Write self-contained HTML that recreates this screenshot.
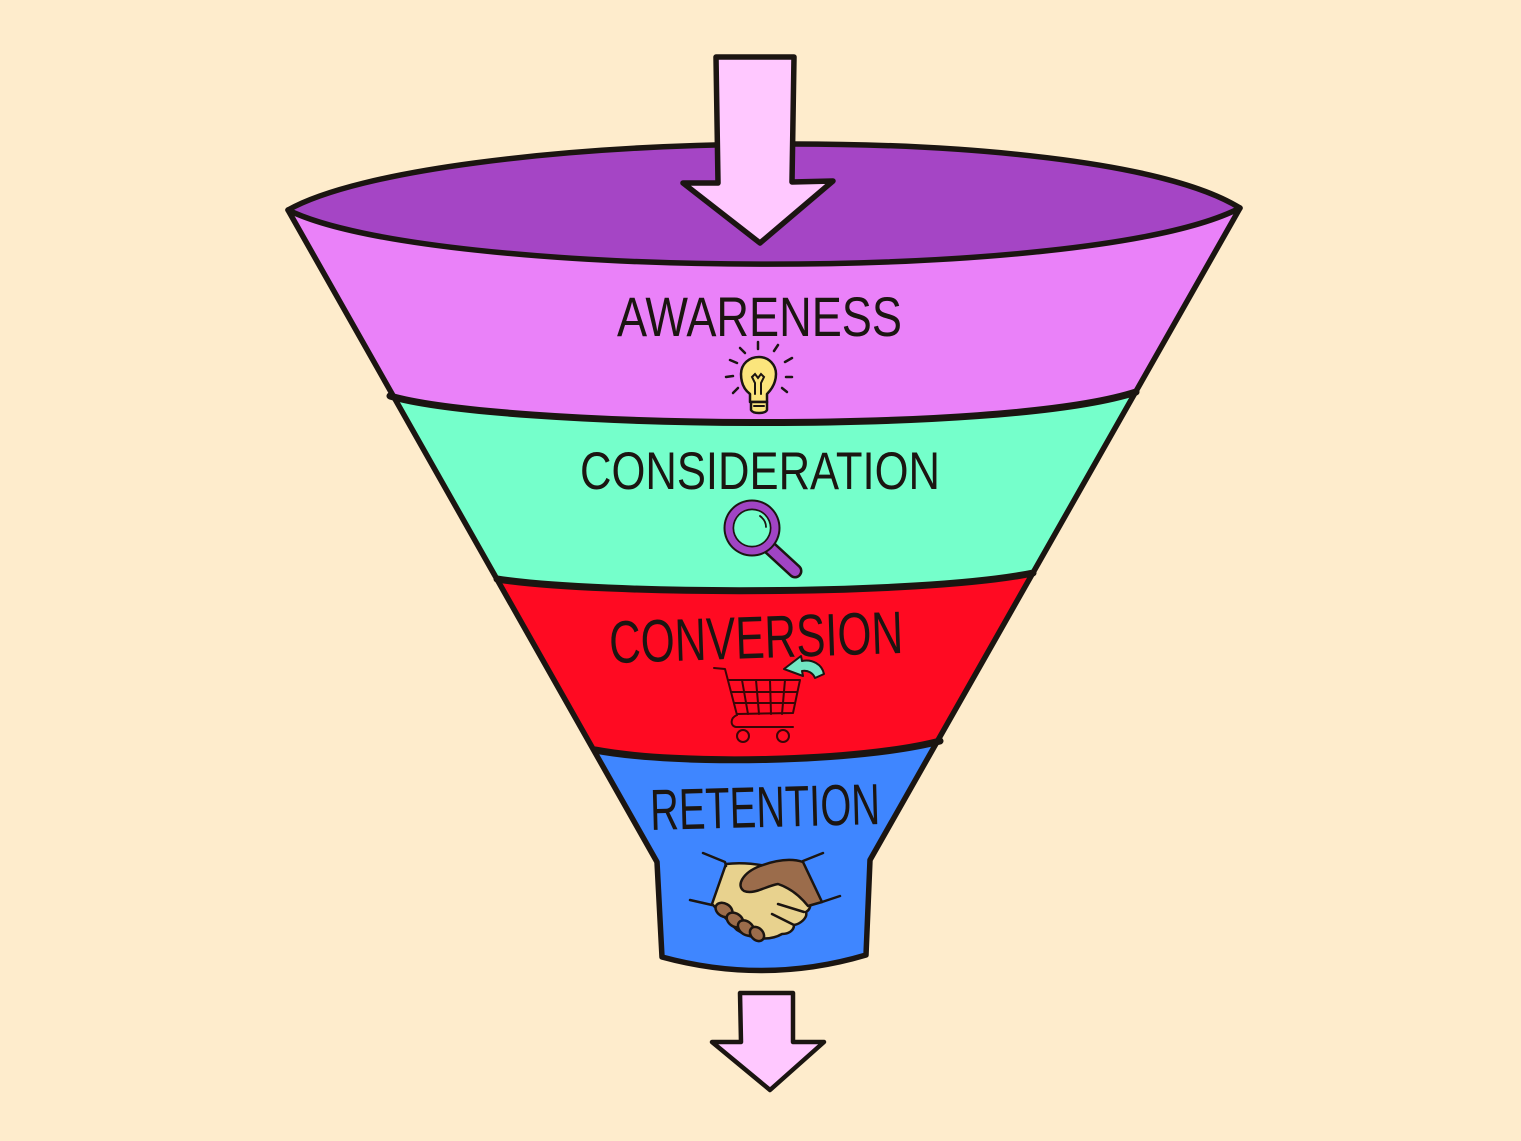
<!DOCTYPE html>
<html>
<head>
<meta charset="utf-8">
<style>
html,body{margin:0;padding:0;background:#FEECCC;}
svg{display:block;}
text{font-family:"Liberation Sans",sans-serif;fill:#1b1511;}
</style>
</head>
<body>
<svg width="1521" height="1141" viewBox="0 0 1521 1141" xmlns="http://www.w3.org/2000/svg">
<rect width="1521" height="1141" fill="#FEECCC"/>

<!-- Funnel fills (stacked) -->
<path d="M288,210 C430,130 1090,115 1240,208 L870,860 L866,955 Q765,985 662,957 L657,862 Z" fill="#3F86FF"/>
<path d="M288,210 C430,130 1090,115 1240,208 L940,741 C860,762 680,766 595,750 Z" fill="#FF0A22"/>
<path d="M288,210 C430,130 1090,115 1240,208 L1033,573 C920,596 600,595 497,579 Z" fill="#75FFCB"/>
<path d="M288,210 C430,130 1090,115 1240,208 L1136,392 C1000,436 500,428 390,396 Z" fill="#EA81F9"/>
<path d="M288,210 C430,130 1090,115 1240,208 C1090,285 430,280 288,210 Z" fill="#A545C5"/>

<!-- Outlines -->
<g fill="none" stroke="#1b1511" stroke-width="5.5" stroke-linejoin="round" stroke-linecap="round">
  <path d="M288,210 C430,130 1090,115 1240,208 L870,860 L866,955 Q765,985 662,957 L657,862 Z"/>
  <path d="M288,210 C430,280 1090,285 1240,208"/>
  <path d="M390,396 C500,428 1000,436 1136,392" stroke-width="7"/>
  <path d="M497,579 C600,595 920,596 1033,573" stroke-width="7"/>
  <path d="M595,750 C680,766 860,762 940,741" stroke-width="7"/>
</g>

<!-- Top arrow -->
<path d="M716,57 L794,57 L792,182 L833,181 L760,243 L683,183 L718,183 Z" fill="#FFC8FF" stroke="#1b1511" stroke-width="5.5" stroke-linejoin="round"/>

<!-- Bottom arrow -->
<path d="M740,993 L793,993 L793,1042 L824,1042 L770,1090 L712,1042 L741,1042 Z" fill="#FFC8FF" stroke="#1b1511" stroke-width="4.5" stroke-linejoin="round"/>

<!-- Labels -->
<text x="617" y="336" font-size="56" textLength="285" lengthAdjust="spacingAndGlyphs">AWARENESS</text>
<text x="580" y="489" font-size="53" textLength="360" lengthAdjust="spacingAndGlyphs">CONSIDERATION</text>
<text x="609" y="658" font-size="60" textLength="294" lengthAdjust="spacingAndGlyphs" transform="rotate(-2 756 636)">CONVERSION</text>
<text x="650" y="827" font-size="58" textLength="230" lengthAdjust="spacingAndGlyphs" transform="rotate(-1.5 765 806)">RETENTION</text>

<!-- Light bulb -->
<g stroke="#1b1511" stroke-width="2.5" stroke-linecap="round" fill="none">
  <line x1="758" y1="342" x2="758" y2="349"/>
  <line x1="740" y1="348" x2="745" y2="353"/>
  <line x1="778" y1="345" x2="774" y2="351"/>
  <line x1="730" y1="360" x2="737" y2="363"/>
  <line x1="785" y1="362" x2="792" y2="358"/>
  <line x1="726" y1="377" x2="733" y2="376"/>
  <line x1="786" y1="377" x2="792" y2="377"/>
  <line x1="733" y1="393" x2="738" y2="388"/>
  <line x1="782" y1="388" x2="787" y2="392"/>
</g>
<path d="M750,402 L750,394 C742,388 741,380 741,374 C741,364 749,357 759,357 C769,357 776,365 776,374 C776,381 773,388 767,394 L767,402 Z" fill="#FBE57C" stroke="#1b1511" stroke-width="2.5" stroke-linejoin="round"/>
<path d="M751,402 L767,402 L767,410 C765,414 753,414 751,410 Z" fill="#FBE57C" stroke="#1b1511" stroke-width="2.5" stroke-linejoin="round"/>
<g stroke="#1b1511" stroke-width="2" fill="none" stroke-linecap="round">
  <path d="M755,394 L755,383 L752,377 L755,374 L758,378 L761,374 L764,377 L761,383 L761,394"/>
  <line x1="754" y1="406" x2="764" y2="406"/>
</g>

<!-- Magnifier -->
<line x1="770" y1="548" x2="795" y2="571" stroke="#1b1511" stroke-width="15" stroke-linecap="round"/>
<line x1="770" y1="548" x2="795" y2="571" stroke="#A044C4" stroke-width="10" stroke-linecap="round"/>
<circle cx="752" cy="528" r="28.5" fill="#1b1511"/>
<circle cx="752" cy="528" r="26.5" fill="#A044C4"/>
<circle cx="752" cy="528" r="19.5" fill="#1b1511"/>
<circle cx="752" cy="528" r="17.8" fill="#75FFCB"/>
<path d="M760,516 C764,519 766,523 766,527" stroke="#1b1511" stroke-width="1.8" fill="none" stroke-linecap="round"/>

<!-- Cart -->
<g stroke="#3a0606" stroke-width="2" fill="none" stroke-linecap="round" stroke-linejoin="round">
  <path d="M714,668 L725,669 L737,715"/>
  <path d="M728,680 L800,680 L793,713 L737,714"/>
  <line x1="731" y1="692" x2="797" y2="692"/>
  <line x1="734" y1="703" x2="795" y2="703"/>
  <line x1="742" y1="680" x2="748" y2="714"/>
  <line x1="756" y1="680" x2="759" y2="714"/>
  <line x1="770" y1="680" x2="771" y2="714"/>
  <line x1="785" y1="680" x2="782" y2="714"/>
  <path d="M737,715 C730,718 730,726 736,727 L793,727"/>
  <circle cx="743" cy="736" r="6"/>
  <circle cx="783" cy="736" r="6"/>
</g>
<path d="M824,674 C822,664 812,659 802,661 L801,656 L784,669 L803,676 L802,671 C808,670 813,673 815,678 Z" fill="#72E6C3" stroke="#1b1511" stroke-width="2" stroke-linejoin="round"/>

<!-- Handshake -->
<g stroke="#1b1511" stroke-width="2.5" stroke-linecap="round" stroke-linejoin="round">
  <path d="M712,904 L726,864 C742,862 760,864 774,868 L800,889 C812,897 813,908 806,912 C808,918 800,924 794,925 C794,931 788,934 782,934 C770,941 752,940 737,930 Z" fill="#E8D28E"/>
  <path d="M803,862 L822,902 L808,906 C800,896 790,888 778,884 C766,886 754,895 744,891 C736,886 742,873 760,866 C776,860 791,858 803,862 Z" fill="#9B6C4B"/>
  <ellipse cx="724" cy="910" rx="9" ry="6.5" transform="rotate(30 724 910)" fill="#9B6C4B"/>
  <ellipse cx="735" cy="920" rx="9" ry="6.5" transform="rotate(35 735 920)" fill="#9B6C4B"/>
  <ellipse cx="746" cy="928" rx="9" ry="6.5" transform="rotate(40 746 928)" fill="#9B6C4B"/>
  <ellipse cx="757" cy="934" rx="8" ry="6" transform="rotate(45 757 934)" fill="#9B6C4B"/>
  <g fill="none">
    <path d="M703,853 L725,862 L726,866"/>
    <path d="M823,853 L803,861"/>
    <path d="M690,900 L712,905"/>
    <path d="M840,896 L822,902"/>
    <path d="M778,904 L804,912"/>
    <path d="M772,914 L794,925"/>
  </g>
</g>
</svg>
</body>
</html>
